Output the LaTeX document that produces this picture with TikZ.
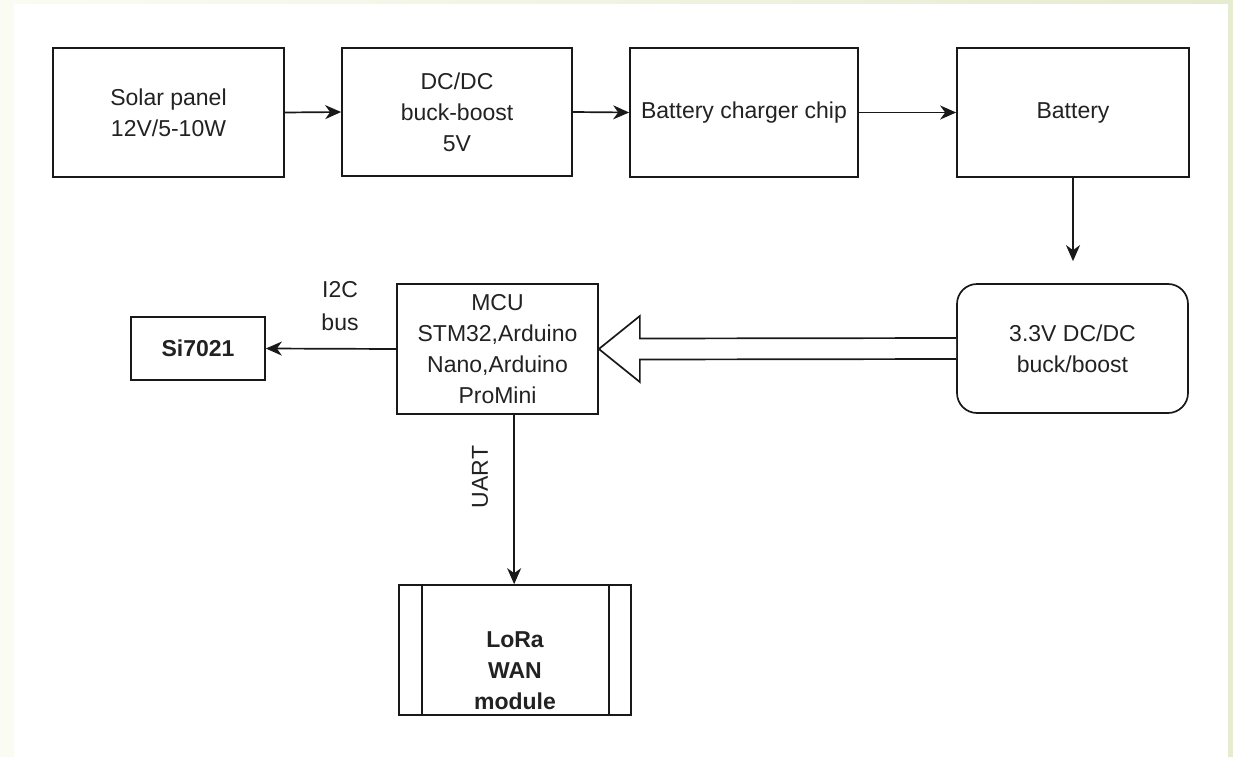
\documentclass[tikz,border=0pt]{standalone}
\usepackage{fontspec}
\setmainfont{Liberation Sans}
\usetikzlibrary{arrows.meta,calc}
\definecolor{leftband}{HTML}{FAFBF3}
\definecolor{rightband}{HTML}{E5ECD0}
\definecolor{txt}{HTML}{222222}
\begin{document}
\begin{tikzpicture}[x=1pt,y=-1pt,
  blk/.style={draw=black!90,line width=1.7pt,minimum width=#1,align=center,inner sep=0pt,text=txt,font=\fontsize{23}{31}\selectfont},
  blk/.default=230pt,
  conn/.style={draw=black!90,line width=1.7pt,-{Stealth[length=16pt,width=14pt,inset=5pt]}},
  lbl/.style={text=txt,align=center,font=\fontsize{23}{33}\selectfont}]
\useasboundingbox (0,0) rectangle (1233,757);
\fill[white] (0,0) rectangle (1233,757);
\fill[leftband] (0,0) rectangle (14,757);
\shade[left color=leftband,right color=rightband] (0,0) rectangle (1233,4);
\fill[rightband] (1228,0) rectangle (1233,757);

\node[blk=231pt,minimum height=129pt] (solar) at (168.5,112.5) {Solar panel\\12V/5-10W};
\node[blk=230pt,minimum height=128pt] (dcdc) at (457,112) {DC/DC\\buck-boost\\5V};
\node[blk=228pt,minimum height=129pt] (charger) at (744,112.5) {Battery charger chip};
\node[blk=232pt,minimum height=129pt] (battery) at (1073,112.5) {Battery};
\node[blk=231pt,minimum height=129pt,rounded corners=20pt] (conv) at (1072.5,348.5) {3.3V DC/DC\\buck/boost};
\node[blk=201pt,minimum height=130pt] (mcu) at (497.5,349) {MCU\\STM32,Arduino\\Nano,Arduino\\ProMini};
\node[blk=134pt,minimum height=63pt,font=\fontsize{23}{31}\selectfont\bfseries] (si) at (198,348.5) {Si7021};
\node[blk=232pt,minimum height=130pt] (lora) at (515,650) {};
\node[text=txt,align=center,font=\fontsize{23}{31}\selectfont\bfseries] (loratext) at (515,671) {LoRa\\WAN\\module};
\draw[draw=black!90,line width=1.7pt] ($(lora.north west)+(24,0)$) -- ($(lora.south west)+(24,0)$);
\draw[draw=black!90,line width=1.7pt] ($(lora.north east)+(-23,0)$) -- ($(lora.south east)+(-23,0)$);

\draw[conn] (solar.east) -- (dcdc.west);
\draw[conn] (dcdc.east) -- (charger.west);
\draw[conn] (charger.east) -- (battery.west);
\coordinate (batend) at ($(conv.north)+(0.5,-22)$);
\draw[conn] (battery.south) -- (batend);

% hollow block arrow from converter to MCU
\draw[draw=black!90,line width=1.7pt,fill=white]
  ($(conv.west)+(0,-10.5)$) -- ($(mcu.east)+(41,-10.5)$) -- ($(mcu.east)+(41,-33)$)
  -- (mcu.east) -- ($(mcu.east)+(41,33)$) -- ($(mcu.east)+(41,10.5)$) -- ($(conv.west)+(0,10.5)$);

\draw[conn] (mcu.west) -- (si.east);
\node[lbl] (i2c) at (340,306) {I2C\\bus};
\coordinate (mcubot) at ($(mcu.south west)+(118,0)$);
\draw[conn] (mcubot) -- (mcubot |- lora.north);
\node[lbl,rotate=90] (uart) at (480,477) {UART};
\end{tikzpicture}
\end{document}
